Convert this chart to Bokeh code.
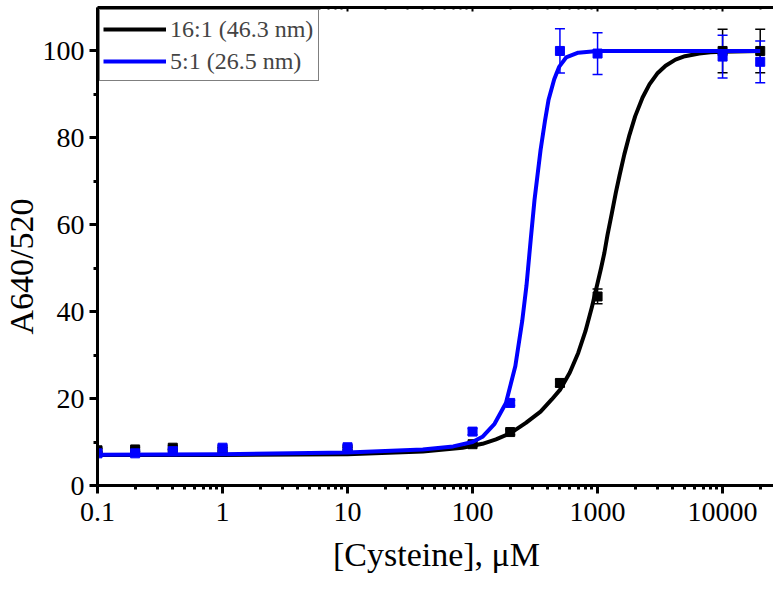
from bokeh.plotting import figure
from bokeh.models import (FixedTicker, LogAxis, Range1d, Whisker, TeeHead, Title,
                          ColumnDataSource, Legend, LegendItem, CustomJSTickFormatter)
from bokeh.embed import file_html
from bokeh.resources import INLINE

# ---- data ----
conc = [0.1, 0.2, 0.4, 1, 10, 100, 200, 500, 1000, 10000, 20000]
y_16 = [8.1, 8.3, 8.7, 8.2, 8.3, 9.5, 12.3, 23.6, 43.5, 100.0, 100.0]
err_16 = [0.5, 0.5, 0.5, 0.5, 0.5, 0.5, 0.6, 0.8, 1.7, 5.0, 5.0]
y_5 = [7.4, 7.4, 7.9, 8.7, 8.8, 12.4, 19.0, 100.0, 99.4, 98.7, 97.5]
err_5 = [0.4, 0.4, 0.5, 0.6, 0.6, 0.7, 0.6, 5.1, 4.8, 4.9, 4.8]

# fitted curves
fit_x_16 = [0.1, 1, 10, 40, 83, 120, 154, 200, 267, 350, 430, 500, 600, 700, 800, 900,
            1000, 1066, 1133, 1200, 1300, 1400, 1500, 1637, 1800, 2000, 2291, 2600,
            3000, 3500, 4200, 5000, 6500, 8000, 10000, 20000]
fit_y_16 = [7.0, 7.0, 7.2, 7.8, 8.7, 9.6, 10.6, 12.0, 14.4, 17.0, 19.8, 22.0, 26.0, 30.5, 35.5, 41.0,
            46.6, 50.0, 53.5, 57.6, 62.6, 67.4, 71.4, 76.2, 80.7, 85.0, 89.3, 92.3,
            94.8, 96.6, 98.0, 98.8, 99.4, 99.7, 99.8, 100.0]
fit_x_5 = [0.1, 1, 10, 40, 70, 100, 120, 150, 185, 220, 250, 270, 292, 313, 350,
           380, 405, 450, 494, 560, 700, 1000, 20000]
fit_y_5 = [7.1, 7.2, 7.6, 8.3, 9.0, 10.0, 11.2, 14.2, 19.0, 27.5, 38.0, 46.0, 56.6, 65.7, 77.2,
           84.0, 88.7, 93.5, 96.4, 98.5, 99.6, 100.0, 100.0]

x_ticks = [0.1, 1, 10, 100, 1000, 10000]
x_tick_labels = ["0.1", "1", "10", "100", "1000", "10000"]
y_ticks = [0, 20, 40, 60, 80, 100]
y_minor = [10, 30, 50, 70, 90]
labels = ["16:1 (46.3 nm)", "5:1 (26.5 nm)"]
colors = ["#000000", "#0000FF"]
x_title = "[Cysteine], μM"
y_title = "A640/520"

FONT = "Liberation Serif"

x_minor = [m * 10.0 ** k for k in range(-1, 5) for m in range(2, 10) if m * 10.0 ** k < 26500]

p = figure(frame_width=678, frame_height=478, x_axis_type="log",
           x_range=Range1d(0.1, 26500), y_range=Range1d(0, 110),
           output_backend="svg", toolbar_location=None,
           min_border_left=95, min_border_right=0, min_border_top=7, min_border_bottom=60)
p.outline_line_color = None
p.xgrid.visible = False
p.ygrid.visible = False
p.background_fill_color = "white"

fmt = CustomJSTickFormatter(args=dict(vals=x_ticks, labs=x_tick_labels), code="""
    for (let i = 0; i < vals.length; i++) {
        if (Math.abs(Math.log10(vals[i]) - Math.log10(tick)) < 1e-6) return labs[i];
    }
    return String(tick);
""")

xa = p.xaxis[0]
xa.ticker = FixedTicker(ticks=x_ticks, minor_ticks=x_minor)
xa.formatter = fmt
xa.axis_label = x_title
ya = p.yaxis[0]
ya.ticker = FixedTicker(ticks=y_ticks, minor_ticks=y_minor)

for ax in (xa, ya):
    ax.axis_line_width = 3
    ax.major_tick_line_width = 3
    ax.minor_tick_line_width = 3
    ax.major_tick_out = 8
    ax.major_tick_in = 0
    ax.minor_tick_out = 4
    ax.minor_tick_in = 0
    ax.major_label_text_font = FONT
    ax.major_label_text_font_size = "28px"
    ax.major_label_text_color = "black"
    ax.axis_label_text_font = FONT
    ax.axis_label_text_font_size = "34px"
    ax.axis_label_text_font_style = "normal"
    ax.axis_label_text_color = "black"
xa.major_label_standoff = 9
xa.axis_label_standoff = 12
ya.major_label_standoff = 5

# y-axis title, placed a little below the axis centre as in the reference
yt = Title(text=y_title, align="left", offset=151, standoff=0,
           text_font=FONT, text_font_size="34px", text_font_style="normal", text_color="black")
p.add_layout(yt, "left")

top = LogAxis(ticker=FixedTicker(ticks=x_ticks, minor_ticks=x_minor))
top.major_label_text_font_size = "1px"
top.major_label_text_color = None
top.major_label_standoff = 0
top.axis_line_width = 3
top.major_tick_line_width = 2
top.minor_tick_line_width = 2
top.major_tick_out = 0
top.major_tick_in = 4
top.minor_tick_out = 0
top.minor_tick_in = 2
p.add_layout(top, "above")

renderers = []
for xs, ys, ptsy, errs, col in ((fit_x_16, fit_y_16, y_16, err_16, colors[0]),
                                (fit_x_5, fit_y_5, y_5, err_5, colors[1])):
    r = p.line(xs, ys, line_color=col, line_width=4, line_join="round")
    renderers.append(r)
    src = ColumnDataSource(dict(x=conc, y=ptsy,
                                upper=[a + b for a, b in zip(ptsy, errs)],
                                lower=[a - b for a, b in zip(ptsy, errs)]))
    w = Whisker(source=src, base="x", upper="upper", lower="lower",
                line_color=col, line_width=1.5,
                upper_head=TeeHead(size=10, line_color=col, line_width=1.5),
                lower_head=TeeHead(size=10, line_color=col, line_width=1.5))
    p.add_layout(w)
    p.scatter("x", "y", source=src, marker="square", size=9, fill_color=col, line_color=col)

legend = Legend(items=[LegendItem(label=labels[i], renderers=[renderers[i]]) for i in range(2)],
                location="top_left")
legend.label_text_font = FONT
legend.label_text_font_size = "24px"
legend.glyph_width = 63
legend.glyph_height = 32
legend.label_height = 32
legend.label_width = 145
legend.label_standoff = 4
legend.padding = 3
legend.spacing = 0
legend.margin = 2
legend.border_line_color = "black"
legend.border_line_width = 1
legend.background_fill_alpha = 1
p.add_layout(legend)

open("out.html", "w").write(file_html(p, INLINE))
